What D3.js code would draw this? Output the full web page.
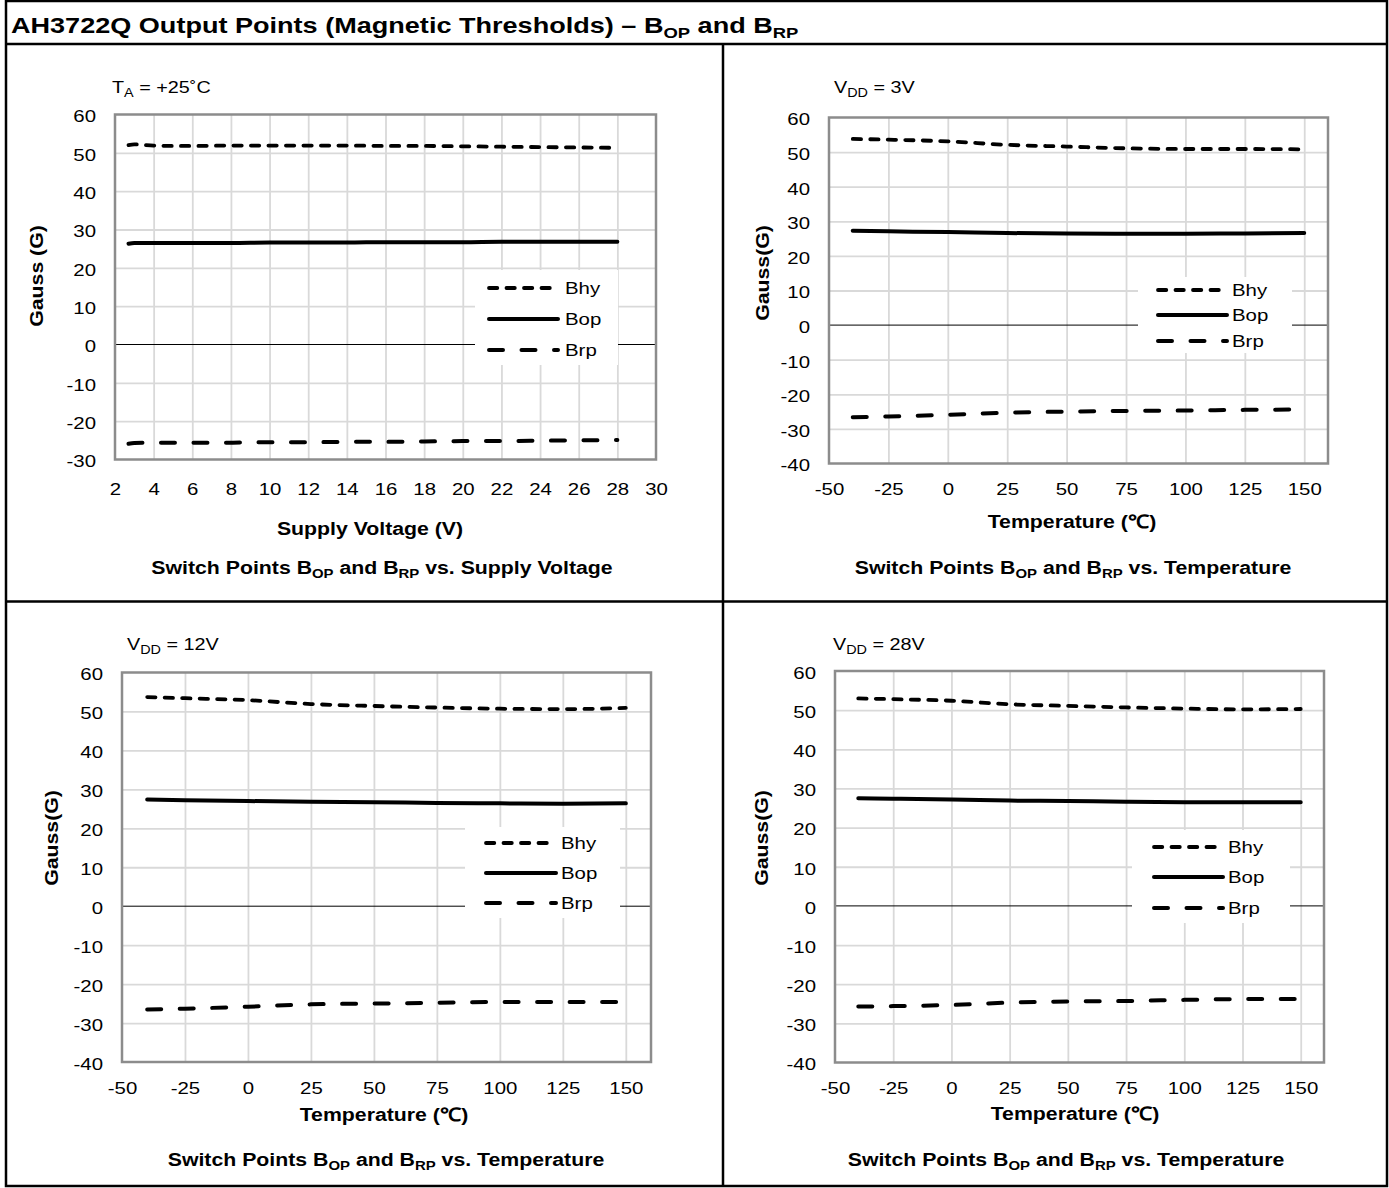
<!DOCTYPE html>
<html>
<head>
<meta charset="utf-8">
<script src="https://cdn.jsdelivr.net/npm/d3@7"></script>
<style>
  html, body { margin: 0; padding: 0; background: #fff; }
  svg { display: block; font-family: "Liberation Sans", Arial, sans-serif; }
</style>
</head>
<body>
<svg id="chart" width="1389" height="1188"></svg>
<script>
// ---- Data -----------------------------------------------------------------
const seriesNames = ["Bhy", "Bop", "Brp"];

// Switch points vs. supply voltage at TA = +25 C
const supplyVoltage = [2.7, 3, 4, 5, 6, 8, 10, 12, 14, 16, 18, 20, 22, 24, 26, 28];
const vddBhy = [52.0, 52.2, 51.9, 51.8, 51.8, 51.9, 51.9, 51.9, 51.9, 51.8, 51.8, 51.7, 51.6, 51.5, 51.4, 51.3];
const vddBop = [26.3, 26.5, 26.5, 26.5, 26.5, 26.5, 26.6, 26.6, 26.6, 26.7, 26.7, 26.7, 26.8, 26.8, 26.8, 26.8];
const vddBrp = [-25.9, -25.7, -25.6, -25.6, -25.6, -25.6, -25.5, -25.5, -25.4, -25.4, -25.3, -25.2, -25.2, -25.1, -25.0, -24.9];

// Switch points vs. temperature
const temperature = [-40, -25, 0, 25, 50, 75, 100, 125, 150];
const v3Bhy  = [53.8, 53.6, 53.1, 52.1, 51.6, 51.1, 50.9, 50.9, 50.8];
const v3Bop  = [27.3, 27.1, 26.9, 26.6, 26.5, 26.4, 26.4, 26.5, 26.6];
const v3Brp  = [-26.6, -26.4, -25.9, -25.3, -25.0, -24.8, -24.7, -24.5, -24.4];
const v12Bhy = [53.7, 53.4, 52.9, 51.9, 51.4, 51.0, 50.7, 50.6, 50.9];
const v12Bop = [27.4, 27.2, 27.0, 26.8, 26.7, 26.5, 26.4, 26.3, 26.4];
const v12Brp = [-26.5, -26.3, -25.8, -25.2, -25.0, -24.8, -24.6, -24.6, -24.6];
const v28Bhy = [53.0, 52.8, 52.4, 51.5, 51.1, 50.7, 50.4, 50.2, 50.3];
const v28Bop = [27.5, 27.4, 27.2, 26.9, 26.8, 26.6, 26.5, 26.5, 26.5];
const v28Brp = [-25.7, -25.6, -25.3, -24.7, -24.4, -24.3, -24.0, -23.8, -23.8];

// Tick values
const voltageTicks = [2, 4, 6, 8, 10, 12, 14, 16, 18, 20, 22, 24, 26, 28, 30];
const tempTicks = [-50, -25, 0, 25, 50, 75, 100, 125, 150];
const gaussTicksA = [-30, -20, -10, 0, 10, 20, 30, 40, 50, 60];
const gaussTicksB = [-40, -30, -20, -10, 0, 10, 20, 30, 40, 50, 60];

// ---- Styles -----------------------------------------------------------------
const lineStyle = {
  Bhy: { dash: "8.3,9.2", width: 3.8 },
  Bop: { dash: null, width: 4 },
  Brp: { dash: "14,18.5", width: 4 }
};
const WIDE = 1.2;       // horizontal stretch of regular labels
const WIDE_BOLD = 1.15; // horizontal stretch of bold titles
const TICK_SIZE = 17;
const BOLD_SIZE = 18.5;

const svg = d3.select("#chart");

// Page frame and dividers
svg.append("rect").attr("x", 6).attr("y", 1).attr("width", 1381).attr("height", 1185)
  .attr("fill", "none").attr("stroke", "#000").attr("stroke-width", 2.5);
svg.append("line").attr("x1", 6).attr("x2", 1388).attr("y1", 44).attr("y2", 44)
  .attr("stroke", "#000").attr("stroke-width", 2.5);
svg.append("line").attr("x1", 723).attr("x2", 723).attr("y1", 44).attr("y2", 1186)
  .attr("stroke", "#000").attr("stroke-width", 2.5);
svg.append("line").attr("x1", 6).attr("x2", 1388).attr("y1", 601.5).attr("y2", 601.5)
  .attr("stroke", "#000").attr("stroke-width", 2.5);

// Stretched label with optional subscripts: parts = [[text, isSub], ...]
function label(parent, o) {
  const t = parent.append("text")
    .attr("transform", `translate(${o.x},${o.y}) rotate(${o.rotate || 0}) scale(${o.sx},1)`)
    .attr("text-anchor", o.anchor || "start")
    .attr("font-size", o.size)
    .attr("font-weight", o.bold ? "bold" : "normal");
  const parts = typeof o.parts === "string" ? [[o.parts, false]] : o.parts;
  const shift = o.subShift || 4;
  let prevSub = false;
  parts.forEach(([txt, sub]) => {
    const ts = t.append("tspan").text(txt);
    if (sub) ts.attr("font-size", o.subSize || o.size * 0.7).attr("dy", shift);
    else if (prevSub) ts.attr("dy", -shift);
    prevSub = sub;
  });
  return t;
}

// Title
label(svg, { x: 11, y: 33, size: 22, bold: true, sx: 1.23, subSize: 15, subShift: 5,
  parts: [["AH3722Q Output Points (Magnetic Thresholds) \u2013 B", false], ["OP", true], [" and B", false], ["RP", true]] });

const temperatureCaption = [["Switch Points B", false], ["OP", true], [" and B", false], ["RP", true], [" vs. Temperature", false]];

const panels = [
  {
    x: supplyVoltage, series: { Bhy: vddBhy, Bop: vddBop, Brp: vddBrp },
    xDomain: [2, 30], xTicks: voltageTicks, yDomain: [-30, 60], yTicks: gaussTicksA,
    plot: { l: 115, r: 656, t: 114.5, b: 459.5 },
    note: [["T", false], ["A", true], [" = +25\u02DAC", false]], noteX: 112, noteY: 93,
    yTitle: "Gauss (G)", yTitleX: 43, yTitleY: 276,
    xTitle: "Supply Voltage (V)", xTitleX: 370, xTitleY: 535, xLabelY: 495,
    caption: [["Switch Points B", false], ["OP", true], [" and B", false], ["RP", true], [" vs. Supply Voltage", false]],
    capX: 382, capY: 574,
    legend: { l: 475, r: 618, t: 270, b: 365, rows: [288, 319, 350], lx1: 489, lx2: 558, tx: 565 }
  },
  {
    x: temperature, series: { Bhy: v3Bhy, Bop: v3Bop, Brp: v3Brp },
    xDomain: [-50, 160], xTicks: tempTicks, yDomain: [-40, 60], yTicks: gaussTicksB,
    plot: { l: 829, r: 1328, t: 117.5, b: 463.5 },
    note: [["V", false], ["DD", true], [" = 3V", false]], noteX: 834, noteY: 93,
    yTitle: "Gauss(G)", yTitleX: 769, yTitleY: 273,
    xTitle: "Temperature (\u2103)", xTitleX: 1072, xTitleY: 528, xLabelY: 495,
    caption: temperatureCaption, capX: 1073, capY: 574,
    legend: { l: 1138, r: 1292, t: 277, b: 353, rows: [290, 315, 341], lx1: 1158, lx2: 1227, tx: 1232 }
  },
  {
    x: temperature, series: { Bhy: v12Bhy, Bop: v12Bop, Brp: v12Brp },
    xDomain: [-50, 160], xTicks: tempTicks, yDomain: [-40, 60], yTicks: gaussTicksB,
    plot: { l: 122, r: 651, t: 672.5, b: 1062 },
    note: [["V", false], ["DD", true], [" = 12V", false]], noteX: 127, noteY: 650,
    yTitle: "Gauss(G)", yTitleX: 58, yTitleY: 838,
    xTitle: "Temperature (\u2103)", xTitleX: 384, xTitleY: 1121, xLabelY: 1094,
    caption: temperatureCaption, capX: 386, capY: 1166,
    legend: { l: 465, r: 620, t: 827, b: 918, rows: [843, 873, 903], lx1: 486, lx2: 556, tx: 561 }
  },
  {
    x: temperature, series: { Bhy: v28Bhy, Bop: v28Bop, Brp: v28Brp },
    xDomain: [-50, 160], xTicks: tempTicks, yDomain: [-40, 60], yTicks: gaussTicksB,
    plot: { l: 835, r: 1324, t: 671, b: 1062.5 },
    note: [["V", false], ["DD", true], [" = 28V", false]], noteX: 833, noteY: 650,
    yTitle: "Gauss(G)", yTitleX: 768, yTitleY: 838,
    xTitle: "Temperature (\u2103)", xTitleX: 1075, xTitleY: 1120, xLabelY: 1094,
    caption: temperatureCaption, capX: 1066, capY: 1166,
    legend: { l: 1132, r: 1290, t: 830, b: 923, rows: [847, 877, 908], lx1: 1154, lx2: 1223, tx: 1228 }
  }
];

panels.forEach(p => {
  const g = svg.append("g");
  const x = d3.scaleLinear().domain(p.xDomain).range([p.plot.l, p.plot.r]);
  const y = d3.scaleLinear().domain(p.yDomain).range([p.plot.b, p.plot.t]);

  // Gridlines via axes
  g.append("g").attr("transform", `translate(0,${p.plot.t})`)
    .call(d3.axisBottom(x).tickValues(p.xTicks.filter(v => v > p.xDomain[0] && v < p.xDomain[1]))
      .tickSize(p.plot.b - p.plot.t).tickFormat(""))
    .call(s => s.select(".domain").remove())
    .call(s => s.selectAll("line").attr("stroke", "#d9d9d9").attr("stroke-width", 1.8));
  g.append("g").attr("transform", `translate(${p.plot.l},0)`)
    .call(d3.axisRight(y).tickValues(p.yTicks.filter(v => v !== 0 && v > p.yDomain[0] && v < p.yDomain[1]))
      .tickSize(p.plot.r - p.plot.l).tickFormat(""))
    .call(s => s.select(".domain").remove())
    .call(s => s.selectAll("line").attr("stroke", "#d9d9d9").attr("stroke-width", 1.8));

  // Zero line
  g.append("line").attr("x1", p.plot.l).attr("x2", p.plot.r).attr("y1", y(0)).attr("y2", y(0))
    .attr("stroke", "#000").attr("stroke-width", 1);

  // Plot border
  g.append("rect").attr("x", p.plot.l).attr("y", p.plot.t)
    .attr("width", p.plot.r - p.plot.l).attr("height", p.plot.b - p.plot.t)
    .attr("fill", "none").attr("stroke", "#8c8c8c").attr("stroke-width", 2.5);

  // Tick labels (plain hyphen for negatives)
  const fmt = d => String(d);
  g.append("g").attr("transform", `translate(${p.plot.l - 19},0)`)
    .call(d3.axisLeft(y).tickValues(p.yTicks).tickSize(0).tickPadding(0).tickFormat(fmt))
    .call(s => s.select(".domain").remove())
    .call(s => s.selectAll("text").attr("font-size", TICK_SIZE).attr("font-family", "Liberation Sans, Arial, sans-serif")
      .attr("fill", "#000").attr("text-anchor", "end").attr("x", 0).attr("dy", "0.43em")
      .attr("transform", `scale(${WIDE},1)`));
  g.append("g").attr("transform", `translate(0,${p.xLabelY})`)
    .call(d3.axisBottom(x).tickValues(p.xTicks).tickSize(0).tickPadding(0).tickFormat(fmt))
    .call(s => s.select(".domain").remove())
    .call(s => s.selectAll("text").attr("font-size", TICK_SIZE).attr("font-family", "Liberation Sans, Arial, sans-serif")
      .attr("fill", "#000").attr("dy", 0).attr("y", 0).attr("transform", `scale(${WIDE},1)`));

  // Series lines
  const line = d3.line().x((d, i) => x(p.x[i])).y(d => y(d)).curve(d3.curveMonotoneX);
  seriesNames.forEach(name => {
    const st = lineStyle[name];
    g.append("path").attr("d", line(p.series[name]))
      .attr("fill", "none").attr("stroke", "#000").attr("stroke-width", st.width)
      .attr("stroke-linecap", "round").attr("stroke-linejoin", "round")
      .attr("stroke-dasharray", st.dash);
  });

  // Legend
  const L = p.legend;
  g.append("rect").attr("x", L.l).attr("y", L.t).attr("width", L.r - L.l).attr("height", L.b - L.t).attr("fill", "#fff");
  seriesNames.forEach((name, i) => {
    const st = lineStyle[name];
    g.append("line").attr("x1", L.lx1).attr("x2", L.lx2).attr("y1", L.rows[i]).attr("y2", L.rows[i])
      .attr("stroke", "#000").attr("stroke-width", st.width).attr("stroke-linecap", "round")
      .attr("stroke-dasharray", st.dash);
    label(g, { x: L.tx, y: L.rows[i] + 6, size: 17, sx: WIDE, parts: name });
  });

  // Condition note
  label(g, { x: p.noteX, y: p.noteY, size: 16.5, sx: WIDE, subSize: 12, subShift: 4, parts: p.note });

  // Axis titles
  label(g, { x: p.yTitleX, y: p.yTitleY, rotate: -90, anchor: "middle", size: BOLD_SIZE, bold: true,
    sx: WIDE_BOLD, parts: p.yTitle });
  label(g, { x: p.xTitleX, y: p.xTitleY, anchor: "middle", size: BOLD_SIZE, bold: true,
    sx: WIDE_BOLD, parts: p.xTitle });

  // Caption
  label(g, { x: p.capX, y: p.capY, anchor: "middle", size: BOLD_SIZE, bold: true, sx: WIDE_BOLD,
    subSize: 13, subShift: 4, parts: p.caption });
});
</script>
</body>
</html>
